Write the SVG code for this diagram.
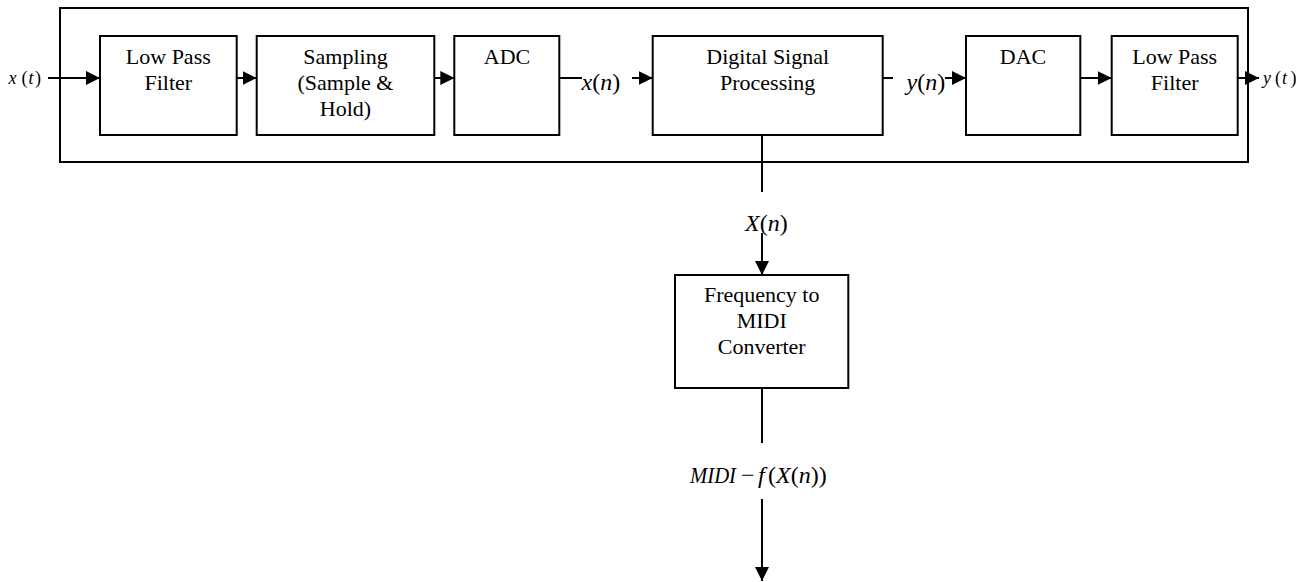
<svg xmlns="http://www.w3.org/2000/svg" width="1313" height="582" viewBox="0 0 1313 582">
<style>
.box{fill:#fff;stroke:#000;stroke-width:2}
.ln{stroke:#000;stroke-width:2;fill:none}
.t{font-family:'Liberation Serif','DejaVu Serif',serif;font-size:22px;fill:#000;text-anchor:middle}
.m{font-family:'Liberation Serif','DejaVu Serif',serif;fill:#000}
.i{font-style:italic}
</style>
<defs>
<marker id="ah" viewBox="0 0 14 14" refX="14" refY="7" markerWidth="14" markerHeight="14" markerUnits="userSpaceOnUse" orient="auto">
<path d="M0,0 L14,7 L0,14 z" fill="#000"/>
</marker>
</defs>
<rect width="1313" height="582" fill="#fff"/>
<g id="system"><rect class="box" x="60" y="8" width="1188" height="154" fill="none"/></g>
<g id="connectors">
<line class="ln" x1="48" y1="78" x2="100" y2="78" marker-end="url(#ah)"/>
<line class="ln" x1="236.7" y1="78" x2="256.7" y2="78" marker-end="url(#ah)"/>
<line class="ln" x1="434.3" y1="78" x2="454.3" y2="78" marker-end="url(#ah)"/>
<line class="ln" x1="559.3" y1="78" x2="582" y2="78"/>
<line class="ln" x1="632" y1="78" x2="652.7" y2="78" marker-end="url(#ah)"/>
<line class="ln" x1="882.7" y1="78" x2="893" y2="78"/>
<line class="ln" x1="945" y1="78" x2="966" y2="78" marker-end="url(#ah)"/>
<line class="ln" x1="1080.3" y1="78" x2="1111.7" y2="78" marker-end="url(#ah)"/>
<line class="ln" x1="1237.7" y1="78" x2="1259" y2="78" marker-end="url(#ah)"/>
<line class="ln" x1="762" y1="135" x2="762" y2="192"/>
<line class="ln" x1="762" y1="233" x2="762" y2="275" marker-end="url(#ah)"/>
<line class="ln" x1="762" y1="388" x2="762" y2="443"/>
<line class="ln" x1="762" y1="499" x2="762" y2="581" marker-end="url(#ah)"/>
</g>
<g id="lpf1"><rect class="box" x="100" y="36" width="136.7" height="99"/>
<text class="t" x="168.3" y="64">Low Pass</text><text class="t" x="168.3" y="90">Filter</text></g>
<g id="sampling"><rect class="box" x="256.7" y="36" width="177.6" height="99"/>
<text class="t" x="345.5" y="64">Sampling</text><text class="t" x="345.5" y="90">(Sample &amp;</text><text class="t" x="345.5" y="116">Hold)</text></g>
<g id="adc"><rect class="box" x="454.3" y="36" width="105" height="99"/>
<text class="t" x="507" y="63.5">ADC</text></g>
<g id="dsp"><rect class="box" x="652.7" y="36" width="230" height="99"/>
<text class="t" x="767.7" y="63.5">Digital Signal</text><text class="t" x="767.7" y="89.5">Processing</text></g>
<g id="dac"><rect class="box" x="966" y="36" width="114.3" height="99"/>
<text class="t" x="1023" y="63.5">DAC</text></g>
<g id="lpf2"><rect class="box" x="1111.7" y="36" width="126" height="99"/>
<text class="t" x="1174.7" y="64">Low Pass</text><text class="t" x="1174.7" y="90">Filter</text></g>
<g id="freq"><rect class="box" x="675" y="275" width="173.3" height="113"/>
<text class="t" x="761.7" y="302">Frequency to</text><text class="t" x="761.7" y="328">MIDI</text><text class="t" x="761.7" y="354">Converter</text></g>
<g id="labels">
<text class="m" font-size="18" y="84"><tspan class="i" x="8.5">x</tspan><tspan x="21.5">(</tspan><tspan class="i" x="28.5">t</tspan><tspan x="35">)</tspan></text>
<text class="m" font-size="18" y="84"><tspan class="i" x="1263">y</tspan><tspan x="1275">(</tspan><tspan class="i" x="1282">t</tspan><tspan x="1290.5">)</tspan></text>
<text class="m" font-size="24" y="90" x="581.5"><tspan class="i">x</tspan>(<tspan class="i">n</tspan>)</text>
<text class="m" font-size="24" y="90" x="906.5"><tspan class="i">y</tspan>(<tspan class="i">n</tspan>)</text>
<text class="m" font-size="24" y="231" x="745"><tspan class="i">X</tspan>(<tspan class="i">n</tspan>)</text>
<text class="m" font-size="24" y="483"><tspan class="i" x="690" textLength="46" lengthAdjust="spacingAndGlyphs">MIDI</tspan><tspan x="741">−</tspan><tspan class="i" x="758">f</tspan><tspan x="768">(</tspan><tspan class="i">X</tspan>(<tspan class="i">n</tspan>))</text>
</g>
</svg>
